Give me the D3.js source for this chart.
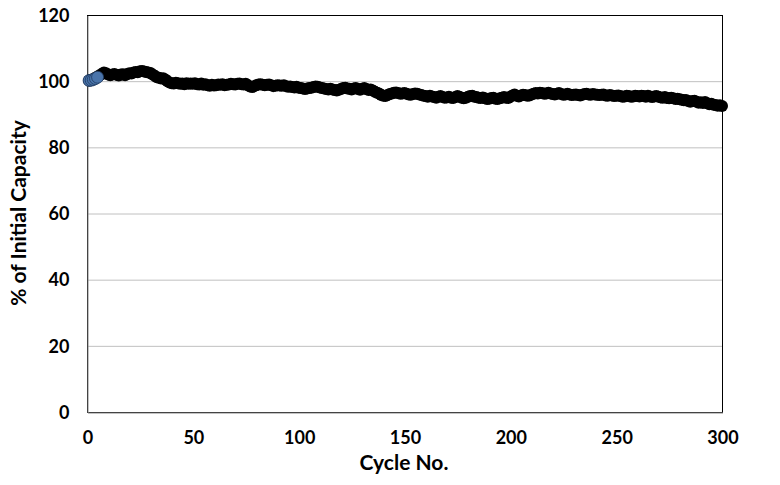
<!DOCTYPE html>
<html><head><meta charset="utf-8">
<script src="https://cdn.jsdelivr.net/npm/d3@7"></script>
<style>
html,body{margin:0;padding:0;background:#fff;}
svg{display:block;font-family:Lato,"Open Sans",sans-serif;font-weight:bold;}
</style></head><body>
<svg id="c" width="780" height="485"></svg>
<script>
const xTicks = [0,50,100,150,200,250,300];
const yTicks = [0,20,40,60,80,100,120];
const xTitle = "Cycle No.";
const yTitle = "% of Initial Capacity";

const blueCycles = [1,2,3,4,5];
const blueValues = [100.2,100.3,100.5,100.8,101.2];

const capacity = [
100.2,100.4,100.6,101.0,101.4,101.8,102.2,102.6,102.4,102.0,
101.8,102.0,102.2,101.9,101.7,102.0,102.1,101.8,102.2,102.4,
102.3,102.6,102.8,102.7,103.0,103.1,102.9,102.8,102.6,102.5,
102.0,101.6,101.2,101.0,100.8,100.9,100.5,100.0,99.6,99.4,
99.3,99.5,99.4,99.2,99.3,99.1,99.4,99.2,99.3,99.2,
99.4,99.1,99.0,99.3,98.9,99.1,98.8,98.6,98.9,98.7,
98.8,99.0,98.9,99.1,98.8,98.9,99.0,99.2,99.1,99.0,
99.2,99.3,99.1,99.0,99.2,98.8,98.4,98.2,98.5,98.8,
99.0,99.1,98.9,98.8,98.9,99.0,98.8,98.5,98.6,98.8,
98.7,98.6,98.8,98.5,98.3,98.4,98.2,98.1,98.3,98.0,
97.9,97.8,97.6,97.8,97.9,98.0,98.2,98.4,98.3,98.1,
97.9,97.8,97.6,97.5,97.7,97.5,97.3,97.2,97.4,97.6,
97.9,98.0,97.8,97.7,97.5,97.8,97.9,97.6,97.4,97.7,
97.9,97.6,97.3,97.5,97.2,96.8,96.5,96.3,95.8,95.6,
95.5,95.8,96.1,96.3,96.5,96.6,96.4,96.2,96.3,96.4,
96.2,96.0,95.9,96.1,96.3,96.2,96.0,95.8,95.6,95.5,
95.3,95.6,95.4,95.2,95.0,95.3,95.5,95.2,95.0,95.1,
95.3,95.0,94.9,95.2,95.5,95.3,95.0,94.8,95.0,95.3,
95.5,95.6,95.3,95.2,95.0,94.9,95.1,94.8,94.6,94.7,
94.9,95.0,94.7,94.6,94.8,95.0,95.2,95.0,94.9,95.3,
95.7,96.0,95.6,95.4,95.7,95.9,95.8,95.6,95.7,96.0,
96.2,96.4,96.3,96.5,96.4,96.2,96.3,96.5,96.3,96.1,
96.0,96.2,96.4,96.1,95.9,96.0,96.2,96.0,95.8,95.9,
96.0,95.8,95.7,95.9,96.1,96.2,96.0,95.9,96.1,96.0,
95.9,95.8,95.9,96.0,95.7,95.6,95.8,95.7,95.5,95.6,
95.7,95.5,95.3,95.4,95.6,95.5,95.3,95.4,95.6,95.5,
95.4,95.6,95.5,95.3,95.6,95.4,95.2,95.4,95.5,95.3,
95.1,95.0,95.2,94.9,94.8,95.0,94.8,94.6,94.7,94.5,
94.4,94.2,94.3,94.0,93.8,94.0,94.1,93.8,93.5,93.6,
93.4,93.7,93.3,93.0,93.2,92.9,92.8,92.6,92.7,92.5
];
const cycles = capacity.map((d,i)=>i+1);

const svg = d3.select("#c");
const L=87, R=722, T=15, B=412;
const x = d3.scaleLinear().domain([0,300]).range([L,R]);
const y = d3.scaleLinear().domain([0,120]).range([B,T]);

// gridlines
svg.append("g").selectAll("line").data(yTicks.filter(d=>d>0&&d<120)).join("line")
  .attr("x1",L).attr("x2",R).attr("y1",d=>y(d)+0.5).attr("y2",d=>y(d)+0.5)
  .attr("stroke","#c0c0c0").attr("stroke-width",1);

// plot border
svg.append("rect").attr("x",L+0.5).attr("y",T+0.5).attr("width",R-L).attr("height",B-T)
  .attr("fill","none").attr("stroke","#000").attr("stroke-width",1);

// axes
const yAxis = d3.axisLeft(y).tickValues(yTicks).tickSize(0).tickPadding(18);
const gy = svg.append("g").attr("transform",`translate(${L+0.5},0.5)`).call(yAxis);
gy.select(".domain").attr("stroke","#868686");
gy.selectAll("text").attr("font-size",18).attr("font-family","Lato").attr("font-weight","bold").attr("fill","#000");

const xAxis = d3.axisBottom(x).tickValues(xTicks).tickSize(0).tickPadding(19);
const gx = svg.append("g").attr("transform",`translate(0.5,${B+0.5})`).call(xAxis);
gx.select(".domain").attr("stroke","#868686");
gx.selectAll("text").attr("font-size",18).attr("font-family","Lato").attr("font-weight","bold").attr("fill","#000");

// series
svg.append("g").selectAll("circle").data(cycles).join("circle")
  .attr("cx",d=>x(d)).attr("cy",(d,i)=>y(capacity[i])).attr("r",6)
  .attr("fill","#000");

svg.append("g").selectAll("circle").data(blueCycles).join("circle")
  .attr("cx",d=>x(d)).attr("cy",(d,i)=>y(blueValues[i])).attr("r",6)
  .attr("fill","#4a74aa").attr("stroke","#1f3a5f").attr("stroke-width",0.8);

// titles
svg.append("text").attr("x",404).attr("y",470).attr("text-anchor","middle")
  .attr("font-size",21).attr("fill","#000").text(xTitle);
svg.append("text").attr("transform","translate(26,213) rotate(-90)").attr("text-anchor","middle")
  .attr("font-size",21).attr("fill","#000").text(yTitle);
</script>
</body></html>
